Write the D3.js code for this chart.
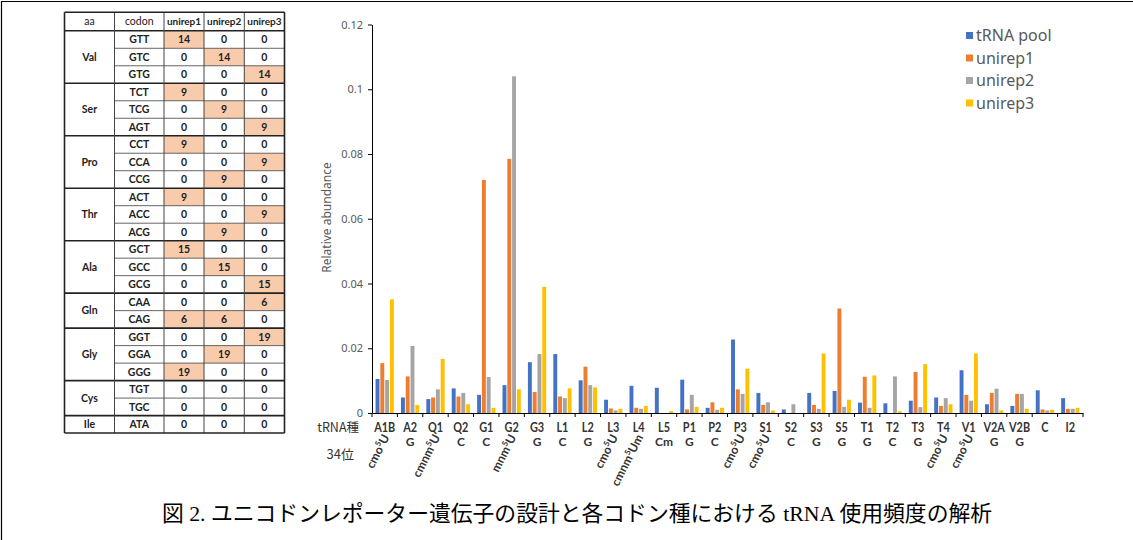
<!DOCTYPE html>
<html><head><meta charset="utf-8">
<script src="https://cdn.jsdelivr.net/npm/d3@7"></script>
<style>body{margin:0;background:#fff}svg{display:block}</style>
</head><body><svg id="c" width="1133" height="540"></svg>
<script>
// ---------------- chart data ----------------
const categories = ["A1B","A2","Q1","Q2","G1","G2","G3","L1","L2","L3","L4","L5","P1","P2","P3","S1","S2","S3","S5","T1","T2","T3","T4","V1","V2A","V2B","C","I2"];
// "|" marks a superscript part
const anticodons = ["cmo|5|U","G","cmnm|5|U","C","C","mnm|5|U","G","C","G","cmo|5|U","cmnm|5|Um","Cm","G","C","cmo|5|U","cmo|5|U","C","G","G","G","C","G","cmo|5|U","cmo|5|U","G","G","",""];
const seriesNames = ["tRNA pool","unirep1","unirep2","unirep3"];
const seriesColors = ["#4472C4","#ED7D31","#A5A5A5","#FFC000"];
const tRNAPool = [0.0105,0.0048,0.0043,0.0076,0.0056,0.0086,0.0157,0.0182,0.0101,0.0041,0.0084,0.0078,0.0103,0.0016,0.0227,0.0062,0.0011,0.0062,0.0068,0.0032,0.0030,0.0038,0.0048,0.0132,0.0027,0.0022,0.0070,0.0046];
const unirep1 = [0.0154,0.0113,0.0048,0.0051,0.0720,0.0785,0.0065,0.0051,0.0143,0.0014,0.0016,0,0.0011,0.0033,0.0073,0.0025,0,0.0025,0.0323,0.0112,0,0.0127,0.0022,0.0056,0.0062,0.0059,0.0011,0.0013];
const unirep2 = [0.0102,0.0207,0.0073,0.0062,0.0111,0.1040,0.0182,0.0046,0.0086,0.0008,0.0013,0,0.0056,0.0010,0.0059,0.0033,0.0027,0.0013,0.0019,0.0016,0.0113,0.0018,0.0046,0.0038,0.0075,0.0059,0.0008,0.0013];
const unirep3 = [0.0351,0.0025,0.0167,0.0027,0.0016,0.0073,0.0390,0.0076,0.0079,0.0013,0.0022,0.0006,0.0019,0.0016,0.0137,0.0008,0,0.0184,0.0041,0.0116,0.0005,0.0151,0.0027,0.0184,0.0008,0.0013,0.0010,0.0016];
const yTicks = [0,0.02,0.04,0.06,0.08,0.1,0.12];
const yTickLabels = ["0","0.02","0.04","0.06","0.08","0.1","0.12"];

// ---------------- table data ----------------
const tableHeader = ["aa","codon","unirep1","unirep2","unirep3"];
const aaNames = ["Val","Ser","Pro","Thr","Ala","Gln","Gly","Cys","Ile"];
const aaSpans = [3,3,3,3,3,2,3,2,1];
const codons = ["GTT","GTC","GTG","TCT","TCG","AGT","CCT","CCA","CCG","ACT","ACC","ACG","GCT","GCC","GCG","CAA","CAG","GGT","GGA","GGG","TGT","TGC","ATA"];
const codonUnirep1 = [14,0,0,9,0,0,9,0,0,9,0,0,15,0,0,0,6,0,0,19,0,0,0];
const codonUnirep2 = [0,14,0,0,9,0,0,0,9,0,0,9,0,15,0,0,6,0,19,0,0,0,0];
const codonUnirep3 = [0,0,14,0,0,9,0,9,0,0,9,0,0,0,15,6,0,19,0,0,0,0,0];

const caption = "図 2. ユニコドンレポーター遺伝子の設計と各コドン種における tRNA 使用頻度の解析";

const svg = d3.select("#c");
svg.append("rect").attr("width",1133).attr("height",540).attr("fill","#fff");
svg.append("path").attr("d","M1.5,540V1.5H1133").attr("fill","none").attr("stroke","#000").attr("stroke-width",1.2);

// ================= TABLE =================
const colX = [64.5,114.5,164,204,244.3,284.5];
const headTop = 12.3, headH = 18.5, rowH = 17.49;
const rowTop = i => headTop + headH + i*rowH;
const tbl = svg.append("g").attr("font-family","Lato, 'Liberation Sans', sans-serif").attr("font-size",10.5).attr("fill","#222");
const vals = [codonUnirep1, codonUnirep2, codonUnirep3];
vals.forEach((arr,k)=>{
  arr.forEach((v,i)=>{
    if(v>0) tbl.append("rect").attr("x",colX[k+2]).attr("y",rowTop(i)).attr("width",colX[k+3]-colX[k+2]).attr("height",rowH).attr("fill","#F8CBAD");
  });
});
tableHeader.forEach((h,j)=>{
  tbl.append("text").attr("x",(colX[j]+colX[j+1])/2).attr("y",headTop+headH/2).attr("dy","0.35em")
    .attr("text-anchor","middle").attr("font-weight", j>=2?"700":"400").attr("font-size", j>=2?10:10.5).text(h);
});
codons.forEach((c,i)=>{
  const cy = rowTop(i)+rowH/2;
  tbl.append("text").attr("x",(colX[1]+colX[2])/2).attr("y",cy).attr("dy","0.35em").attr("text-anchor","middle").attr("font-weight","700").text(c);
  vals.forEach((arr,k)=>{
    tbl.append("text").attr("x",(colX[k+2]+colX[k+3])/2).attr("y",cy).attr("dy","0.35em").attr("text-anchor","middle").attr("font-weight","700").text(arr[i]);
  });
});
let start = 0;
const groupStarts = [];
aaNames.forEach((a,g)=>{
  const top = rowTop(start), bot = rowTop(start+aaSpans[g]);
  tbl.append("text").attr("x",(colX[0]+colX[1])/2).attr("y",(top+bot)/2).attr("dy","0.35em").attr("text-anchor","middle").attr("font-weight","700").text(a);
  groupStarts.push(start);
  start += aaSpans[g];
});
const lines = svg.append("g").attr("fill","none");
codons.forEach((c,i)=>{
  if(i===0 || groupStarts.includes(i)) return;
  lines.append("line").attr("x1",colX[1]).attr("x2",colX[5]).attr("y1",rowTop(i)).attr("y2",rowTop(i)).attr("stroke","#555").attr("stroke-width",0.9);
});
groupStarts.forEach(s=>{
  lines.append("line").attr("x1",colX[0]).attr("x2",colX[5]).attr("y1",rowTop(s)).attr("y2",rowTop(s)).attr("stroke","#222").attr("stroke-width",1.6);
});
colX.forEach((x,j)=>{
  lines.append("line").attr("x1",x).attr("x2",x).attr("y1",headTop).attr("y2",rowTop(codons.length))
    .attr("stroke", (j===0||j===5)?"#222":"#444").attr("stroke-width",(j===0||j===5)?1.6:1);
});
[headTop, rowTop(codons.length)].forEach(yv=>{
  lines.append("line").attr("x1",colX[0]).attr("x2",colX[5]).attr("y1",yv).attr("y2",yv).attr("stroke","#222").attr("stroke-width",1.6);
});

// ================= CHART =================
const series = [tRNAPool, unirep1, unirep2, unirep3];
const x0 = d3.scaleBand().domain(categories).range([372,1083]).paddingInner(0.28).paddingOuter(0.14);
const x1 = d3.scaleBand().domain(seriesNames).range([0,x0.bandwidth()]).paddingInner(0.18);
const y = d3.scaleLinear().domain([0,0.12]).range([413,24.5]);

const bars = svg.append("g");
series.forEach((arr,k)=>{
  bars.selectAll(null).data(arr).enter().append("rect")
    .attr("x",(d,i)=>x0(categories[i])+x1(seriesNames[k]))
    .attr("y",d=>y(d))
    .attr("width",x1.bandwidth())
    .attr("height",d=>y(0)-y(d))
    .attr("fill",seriesColors[k]);
});

const yAxis = svg.append("g").attr("transform","translate(372,0)")
  .call(d3.axisLeft(y).tickValues(yTicks).tickFormat((d,i)=>yTickLabels[i]).tickSize(4).tickSizeOuter(0).tickPadding(5));
yAxis.select(".domain").attr("stroke","#000");
yAxis.selectAll(".tick line").attr("stroke","#000");
yAxis.selectAll(".tick text").attr("font-family","'Noto Sans', sans-serif").attr("font-size",11).attr("fill","#595959");

const xAxis = svg.append("g").attr("transform",`translate(0,${y(0)})`)
  .call(d3.axisBottom(x0).tickSize(0).tickSizeOuter(0).tickFormat(""));
xAxis.select(".domain").attr("stroke","#000");
const step = x0.step();
d3.range(categories.length+1).forEach(i=>{
  const xx = x0.range()[0] + i*step;
  xAxis.append("line").attr("x1",xx).attr("x2",xx).attr("y1",0).attr("y2",4).attr("stroke","#000");
});
const labG = svg.append("g").attr("font-family","Lato, 'Liberation Sans', sans-serif").attr("fill","#333");
categories.forEach((c,i)=>{
  const cx = x0(c)+x0.bandwidth()/2;
  labG.append("text").attr("transform",`translate(${cx},431.5) scale(0.84,1)`).attr("text-anchor","middle").attr("font-weight","700").attr("font-size",13).text(c);
  const a = anticodons[i];
  if(!a) return;
  if(a.includes("|")){
    const parts = a.split("|");
    const t = labG.append("text").attr("transform",`translate(${cx+5},437) rotate(-63)`).attr("text-anchor","end").attr("font-size",12).attr("font-weight","700");
    t.append("tspan").text(parts[0]);
    t.append("tspan").attr("dy",-4.5).attr("font-size",8).text(parts[1]);
    t.append("tspan").attr("dy",4.5).text(parts[2]);
  } else {
    labG.append("text").attr("x",cx).attr("y",446).attr("text-anchor","middle").attr("font-weight","700").attr("font-size",12).text(a);
  }
});
svg.append("text").attr("x",359).attr("y",432).attr("text-anchor","end").attr("font-family","'Noto Sans CJK JP', sans-serif").attr("font-size",12.5).attr("fill","#333").text("tRNA種");
svg.append("text").attr("x",354).attr("y",459).attr("text-anchor","end").attr("font-family","'Noto Sans CJK JP', sans-serif").attr("font-size",13).attr("fill","#333").text("34位");

svg.append("text").attr("transform","translate(331,217.5) rotate(-90)").attr("text-anchor","middle")
  .attr("font-family","'Noto Sans', sans-serif").attr("font-size",12).attr("fill","#595959").text("Relative abundance");

const leg = svg.append("g").attr("font-family","'Noto Sans', sans-serif").attr("font-size",16).attr("fill","#595959");
seriesNames.forEach((s,k)=>{
  const cy = 35.5 + k*22.5;
  leg.append("rect").attr("x",966).attr("y",cy-3.5).attr("width",7).attr("height",7).attr("fill",seriesColors[k]);
  leg.append("text").attr("x",976).attr("y",cy).attr("dy","0.35em").text(s);
});

svg.append("text").attr("x",577).attr("y",521).attr("text-anchor","middle")
  .attr("font-family","'Liberation Serif', 'Noto Sans CJK JP', serif").attr("font-size",21.8).attr("fill","#000").text(caption);
</script>
</body></html>
